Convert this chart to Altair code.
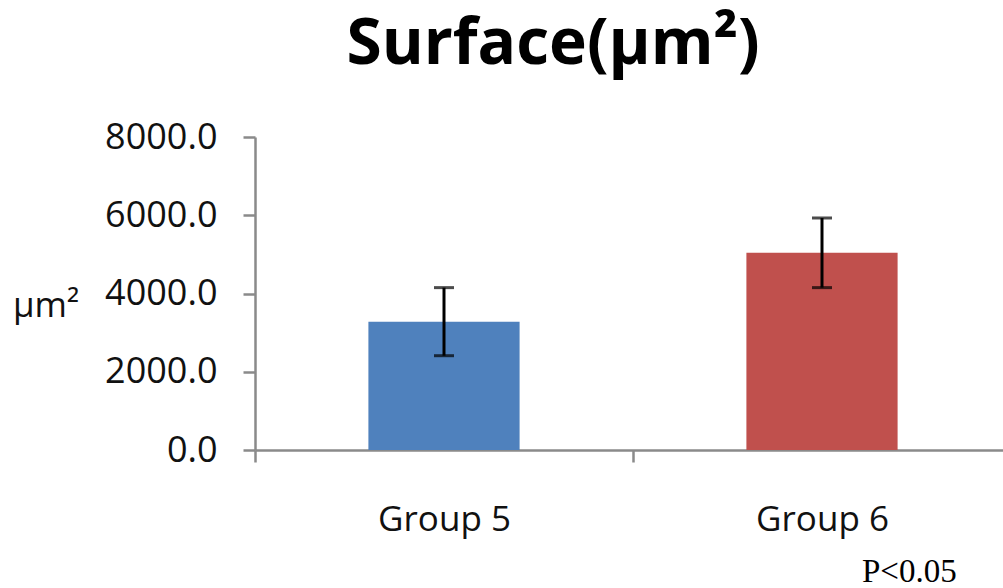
import altair as alt
import pandas as pd

# Mean surface area per group with its error margin
groups = ["Group 5", "Group 6"]
means = [3280, 5040]
errors = [870, 890]
colors = ["#4F81BD", "#C0504D"]

df = pd.DataFrame({"group": groups, "mean": means, "err": errors, "color": colors})
df["lo"] = df["mean"] - df["err"]
df["hi"] = df["mean"] + df["err"]

FONT = "Open Sans"
AXIS_GREY = "#8a8a8a"

# full-width bands (ticks fall on band boundaries); the axis runs a little
# past the right edge of the canvas
x_scale = alt.Scale(paddingInner=0, paddingOuter=0, range=[0, 756])

x_enc = alt.X(
    "group:N",
    sort=groups,
    scale=x_scale,
    axis=alt.Axis(
        title=None,
        labelAngle=0,
        labelFont=FONT,
        labelFontSize=35,
        labelColor="#111111",
        labelPadding=40,
        tickSize=12,
        tickBand="extent",
        domainColor=AXIS_GREY,
        tickColor=AXIS_GREY,
        domainWidth=2.5,
        tickWidth=2.5,
    ),
)

y_scale = alt.Scale(domain=[0, 8000], nice=False)
y_axis = alt.Axis(
    title=None,
    values=[0, 2000, 4000, 6000, 8000],
    format=".1f",
    grid=False,
    labelFont=FONT,
    labelFontSize=36,
    labelColor="#111111",
    labelPadding=26,
    tickSize=12,
    domainColor=AXIS_GREY,
    tickColor=AXIS_GREY,
    domainWidth=2.5,
    tickWidth=2.5,
)

bars = alt.Chart(df).mark_bar(width=alt.RelativeBandSize(0.4)).encode(
    x=x_enc,
    y=alt.Y("mean:Q", scale=y_scale, axis=y_axis),
    color=alt.Color("color:N", scale=None),
)

whisker = alt.Chart(df).mark_rule(color="black", strokeWidth=3).encode(
    x=alt.X("group:N", sort=groups),
    y=alt.Y("lo:Q", scale=y_scale),
    y2="hi:Q",
)

cap_lo = alt.Chart(df).mark_tick(color="black", thickness=3, size=20, orient="horizontal").encode(
    x=alt.X("group:N", sort=groups),
    y=alt.Y("lo:Q", scale=y_scale),
)
cap_hi = alt.Chart(df).mark_tick(color="black", thickness=3, size=20, orient="horizontal").encode(
    x=alt.X("group:N", sort=groups),
    y=alt.Y("hi:Q", scale=y_scale),
)

title_txt = alt.Chart(pd.DataFrame({"t": ["Surface(µm²)"]})).mark_text(
    font=FONT, fontSize=64, fontWeight="bold", color="black", align="center", baseline="alphabetic"
).encode(text="t:N", x=alt.value(298), y=alt.value(-73))

unit_txt = alt.Chart(pd.DataFrame({"t": ["µm²"]})).mark_text(
    font=FONT, fontSize=35, color="#111111", align="center", baseline="middle"
).encode(text="t:N", x=alt.value(-209), y=alt.value(169))

p_txt = alt.Chart(pd.DataFrame({"t": ["P<0.05"]})).mark_text(
    font="Liberation Serif", fontSize=33, color="black", align="left", baseline="alphabetic"
).encode(text="t:N", x=alt.value(607), y=alt.value(445))

chart = (
    alt.layer(bars, whisker, cap_lo, cap_hi, title_txt, unit_txt, p_txt)
    .properties(
        width=748,
        height=313,
        autosize=alt.AutoSizeParams(type="none"),
        padding={"left": 255, "top": 137, "right": 0, "bottom": 138},
        background="white",
    )
    .configure_view(stroke=None)
)

chart.save("out.html", embed_options={"renderer": "svg", "actions": False})
